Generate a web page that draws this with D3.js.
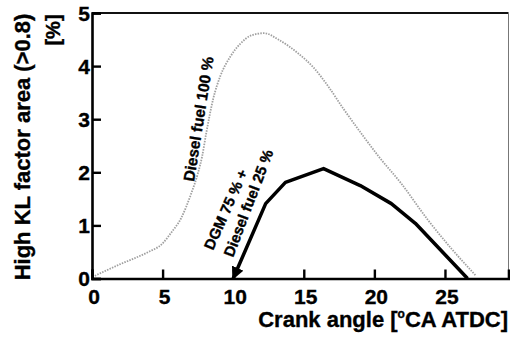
<!DOCTYPE html>
<html>
<head>
<meta charset="utf-8">
<script src="https://cdn.jsdelivr.net/npm/d3@7"></script>
<style>
  body { margin: 0; background: #fff; }
  svg { display: block; font-family: "Liberation Sans", Arial, sans-serif; font-weight: bold; }
  svg text { stroke: #000; stroke-width: 0.35; }
</style>
</head>
<body>
<svg width="510" height="341"></svg>
<script>
// データ
var xTicks = [0, 5, 10, 15, 20, 25];
var yTicks = [0, 1, 2, 3, 4, 5];

// Diesel fuel 100 %（灰色の点線）
var dieselX = [0.2, 1, 2, 3, 4, 5, 5.6, 6.3, 7.0, 7.5, 7.8, 8.1, 8.6, 9.1, 9.8, 10.5, 11.3, 12.2, 13.2, 14.6, 15.7, 16.7, 17.8, 19.3, 20.3, 21.9, 23.8, 25.4, 27.2];
var dieselY = [0.05, 0.15, 0.27, 0.38, 0.5, 0.66, 0.86, 1.13, 1.58, 1.98, 2.3, 2.75, 3.4, 3.82, 4.18, 4.42, 4.58, 4.62, 4.5, 4.24, 3.97, 3.63, 3.2, 2.65, 2.3, 1.79, 1.1, 0.58, 0.05];

// DGM 75 % + Diesel fuel 25 %（黒の太線）
var dgmX = [10.0, 12.3, 13.7, 16.4, 19.0, 21.2, 22.9, 26.6];
var dgmY = [0.0, 1.41, 1.81, 2.07, 1.75, 1.41, 1.04, 0.0];

var svg = d3.select("svg");

var xScale = d3.scaleLinear().domain([0, 29.5]).range([92, 508.5]);
var yScale = d3.scaleLinear().domain([0, 5]).range([278.5, 13]);

// 枠線（上・右）
svg.append("line")
    .attr("x1", xScale(0)).attr("x2", xScale(29.5))
    .attr("y1", yScale(5)).attr("y2", yScale(5))
    .attr("stroke", "#111").attr("stroke-width", 2);
svg.append("line")
    .attr("x1", xScale(29.5)).attr("x2", xScale(29.5))
    .attr("y1", yScale(5)).attr("y2", yScale(0))
    .attr("stroke", "#777").attr("stroke-width", 1);

// 軸
var xAxis = svg.append("g")
    .attr("transform", "translate(0," + yScale(0) + ")")
    .call(d3.axisTop(xScale).tickValues(xTicks).tickSize(9).tickFormat(""));
var yAxis = svg.append("g")
    .attr("transform", "translate(" + xScale(0) + ",0)")
    .call(d3.axisRight(yScale).tickValues(yTicks).tickSize(9).tickFormat(""));
[xAxis, yAxis].forEach(function(g) {
    g.select(".domain").attr("stroke", "#000").attr("stroke-width", 2.6);
    g.selectAll(".tick line").attr("stroke", "#000").attr("stroke-width", 2.4);
});

// 目盛ラベル
svg.append("g").selectAll("text")
    .data(xTicks).enter().append("text")
    .attr("x", function(d) { return xScale(d) + 2; })
    .attr("y", 304)
    .attr("text-anchor", "middle")
    .attr("font-size", 21)
    .text(function(d) { return d; });

svg.append("g").selectAll("text")
    .data(yTicks).enter().append("text")
    .attr("x", 90)
    .attr("y", function(d) { return yScale(d) + 7.5; })
    .attr("text-anchor", "end")
    .attr("font-size", 21)
    .text(function(d) { return d; });

// 軸タイトル
svg.append("text")
    .attr("transform", "translate(30,147) rotate(-90)")
    .attr("text-anchor", "middle")
    .attr("font-size", 22)
    .text("High KL factor area (>0.8)");
svg.append("text")
    .attr("transform", "translate(60,30) rotate(-90)")
    .attr("text-anchor", "middle")
    .attr("font-size", 20)
    .text("[%]");

var xt = svg.append("text")
    .attr("x", 508).attr("y", 327)
    .attr("text-anchor", "end")
    .attr("font-size", 22);
xt.append("tspan").text("Crank angle [");
xt.append("tspan").attr("font-size", 12).attr("dy", -9).text("o");
xt.append("tspan").attr("dy", 9).text("CA ATDC]");

// 線
var line = d3.line()
    .x(function(d) { return xScale(d[0]); })
    .y(function(d) { return yScale(d[1]); });

svg.append("path")
    .datum(d3.zip(dieselX, dieselY))
    .attr("d", line.curve(d3.curveMonotoneX))
    .attr("fill", "none")
    .attr("stroke", "#a0a0a0")
    .attr("stroke-width", 1.8)
    .attr("stroke-dasharray", "1.5,1.2");

svg.append("defs").append("marker")
    .attr("id", "arrow")
    .attr("viewBox", "0 0 10 10")
    .attr("refX", 9).attr("refY", 5)
    .attr("markerWidth", 3.6).attr("markerHeight", 3.6)
    .attr("orient", "auto-start-reverse")
    .append("path").attr("d", "M0,0L10,5L0,10z").attr("fill", "#000");

svg.append("path")
    .datum(d3.zip(dgmX, dgmY))
    .attr("d", line.curve(d3.curveLinear))
    .attr("fill", "none")
    .attr("stroke", "#000")
    .attr("stroke-width", 3.5)
    .attr("stroke-linejoin", "round")
    .attr("marker-start", "url(#arrow)");

// 系列ラベル
svg.append("text")
    .attr("transform", "translate(194,182) rotate(-81)")
    .attr("font-size", 15.5)
    .text("Diesel fuel 100 %");
svg.append("text")
    .attr("transform", "translate(213,251) rotate(-66)")
    .attr("font-size", 15)
    .text("DGM 75 % +");
svg.append("text")
    .attr("transform", "translate(233,258) rotate(-69)")
    .attr("font-size", 15)
    .text("Diesel fuel 25 %");
</script>
</body>
</html>
